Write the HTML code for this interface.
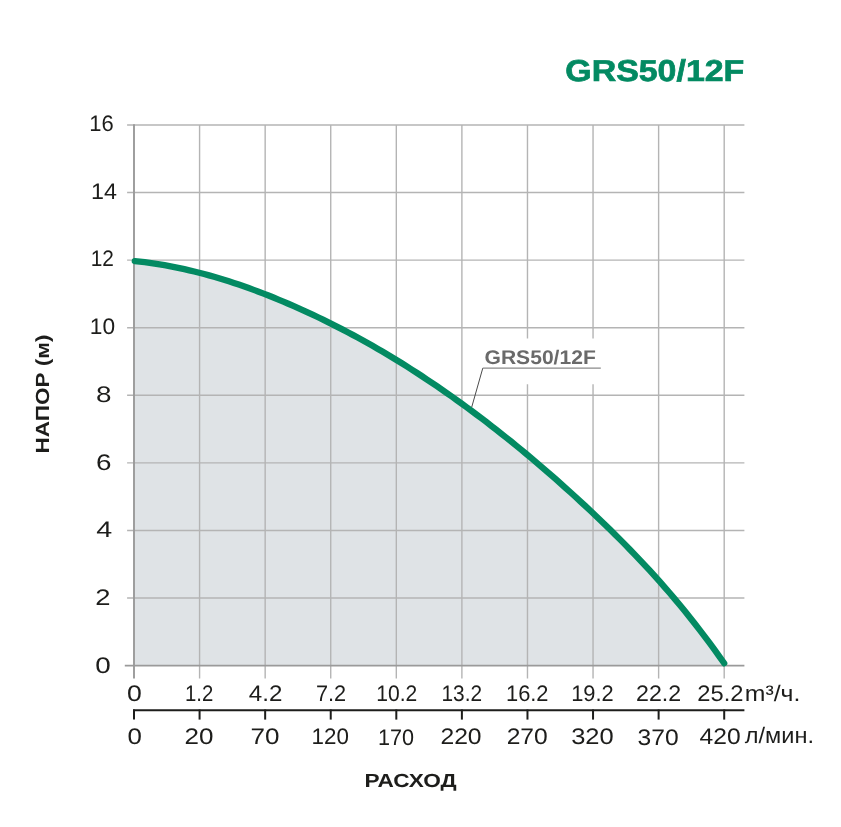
<!DOCTYPE html>
<html><head><meta charset="utf-8"><style>
html,body{margin:0;padding:0;background:#fff;width:841px;height:827px;overflow:hidden}
svg{display:block;will-change:transform}
text{font-family:"Liberation Sans",sans-serif;text-rendering:geometricPrecision}
.n{font-size:22.5px;fill:#1d1d1b}
.b{font-size:19px;font-weight:bold;fill:#1d1d1b}
</style></head><body>
<svg width="841" height="827" viewBox="0 0 841 827">
<path d="M134.80,261.10 L139.75,261.63 L144.71,262.22 L149.66,262.88 L154.61,263.60 L159.56,264.38 L164.52,265.22 L169.47,266.12 L174.42,267.08 L179.38,268.10 L184.33,269.18 L189.28,270.31 L194.24,271.50 L199.19,272.75 L204.14,274.05 L209.09,275.40 L214.05,276.81 L219.00,278.27 L223.95,279.78 L228.91,281.34 L233.86,282.95 L238.81,284.61 L243.76,286.32 L248.72,288.07 L253.67,289.87 L258.62,291.72 L263.58,293.61 L268.53,295.55 L273.48,297.53 L278.44,299.55 L283.39,301.62 L288.34,303.73 L293.29,305.88 L298.25,308.07 L303.20,310.30 L308.15,312.58 L313.11,314.90 L318.06,317.25 L323.01,319.65 L327.96,322.09 L332.92,324.56 L337.87,327.08 L342.82,329.63 L347.78,332.23 L352.73,334.87 L357.68,337.54 L362.64,340.26 L367.59,343.02 L372.54,345.83 L377.49,348.67 L382.45,351.56 L387.40,354.49 L392.35,357.47 L397.31,360.49 L402.26,363.55 L407.21,366.66 L412.16,369.81 L417.12,373.00 L422.07,376.24 L427.02,379.52 L431.98,382.84 L436.93,386.21 L441.88,389.61 L446.84,393.06 L451.79,396.55 L456.74,400.08 L461.69,403.65 L466.65,407.26 L471.60,410.91 L476.55,414.60 L481.51,418.33 L486.46,422.10 L491.41,425.92 L496.36,429.77 L501.32,433.66 L506.27,437.60 L511.22,441.57 L516.18,445.59 L521.13,449.65 L526.08,453.74 L531.04,457.88 L535.99,462.07 L540.94,466.29 L545.89,470.55 L550.85,474.86 L555.80,479.21 L560.75,483.60 L565.71,488.03 L570.66,492.50 L575.61,497.01 L580.56,501.57 L585.52,506.17 L590.47,510.81 L595.42,515.49 L600.38,520.22 L605.33,524.99 L610.28,529.82 L615.24,534.70 L620.19,539.64 L625.14,544.64 L630.09,549.70 L635.05,554.84 L640.00,560.05 L644.95,565.33 L649.91,570.70 L654.86,576.15 L659.81,581.69 L664.76,587.32 L669.72,593.04 L674.67,598.86 L679.62,604.79 L684.58,610.82 L689.53,616.96 L694.48,623.21 L699.44,629.58 L704.39,636.07 L709.34,642.68 L714.29,649.42 L719.25,656.29 L724.20,663.30 L724.20,665.60 L134.00,665.60 Z" fill="#dfe3e6"/>
<line x1="127.1" y1="125.00" x2="744.4" y2="125.00" stroke="#b4b4b4" stroke-width="1.4"/>
<line x1="127.1" y1="192.57" x2="744.4" y2="192.57" stroke="#b4b4b4" stroke-width="1.4"/>
<line x1="127.1" y1="260.15" x2="744.4" y2="260.15" stroke="#b4b4b4" stroke-width="1.4"/>
<line x1="127.1" y1="327.73" x2="744.4" y2="327.73" stroke="#b4b4b4" stroke-width="1.4"/>
<line x1="127.1" y1="395.30" x2="744.4" y2="395.30" stroke="#b4b4b4" stroke-width="1.4"/>
<line x1="127.1" y1="462.88" x2="744.4" y2="462.88" stroke="#b4b4b4" stroke-width="1.4"/>
<line x1="127.1" y1="530.45" x2="744.4" y2="530.45" stroke="#b4b4b4" stroke-width="1.4"/>
<line x1="127.1" y1="598.03" x2="744.4" y2="598.03" stroke="#b4b4b4" stroke-width="1.4"/>
<line x1="199.58" y1="125.0" x2="199.58" y2="678.4" stroke="#b4b4b4" stroke-width="1.4"/>
<line x1="265.16" y1="125.0" x2="265.16" y2="678.4" stroke="#b4b4b4" stroke-width="1.4"/>
<line x1="330.73" y1="125.0" x2="330.73" y2="678.4" stroke="#b4b4b4" stroke-width="1.4"/>
<line x1="396.31" y1="125.0" x2="396.31" y2="678.4" stroke="#b4b4b4" stroke-width="1.4"/>
<line x1="461.89" y1="125.0" x2="461.89" y2="678.4" stroke="#b4b4b4" stroke-width="1.4"/>
<line x1="527.47" y1="125.0" x2="527.47" y2="338.5" stroke="#b4b4b4" stroke-width="1.4"/>
<line x1="527.47" y1="384.2" x2="527.47" y2="678.4" stroke="#b4b4b4" stroke-width="1.4"/>
<line x1="593.04" y1="125.0" x2="593.04" y2="338.5" stroke="#b4b4b4" stroke-width="1.4"/>
<line x1="593.04" y1="384.2" x2="593.04" y2="678.4" stroke="#b4b4b4" stroke-width="1.4"/>
<line x1="658.62" y1="125.0" x2="658.62" y2="678.4" stroke="#b4b4b4" stroke-width="1.4"/>
<line x1="724.20" y1="125.0" x2="724.20" y2="678.4" stroke="#b4b4b4" stroke-width="1.4"/>
<line x1="124.8" y1="665.60" x2="744.4" y2="665.60" stroke="#9a9a9a" stroke-width="1.8"/>
<line x1="134.0" y1="124.3" x2="134.0" y2="678.4" stroke="#9a9a9a" stroke-width="1.9"/>
<path d="M134.80,261.10 L139.75,261.63 L144.71,262.22 L149.66,262.88 L154.61,263.60 L159.56,264.38 L164.52,265.22 L169.47,266.12 L174.42,267.08 L179.38,268.10 L184.33,269.18 L189.28,270.31 L194.24,271.50 L199.19,272.75 L204.14,274.05 L209.09,275.40 L214.05,276.81 L219.00,278.27 L223.95,279.78 L228.91,281.34 L233.86,282.95 L238.81,284.61 L243.76,286.32 L248.72,288.07 L253.67,289.87 L258.62,291.72 L263.58,293.61 L268.53,295.55 L273.48,297.53 L278.44,299.55 L283.39,301.62 L288.34,303.73 L293.29,305.88 L298.25,308.07 L303.20,310.30 L308.15,312.58 L313.11,314.90 L318.06,317.25 L323.01,319.65 L327.96,322.09 L332.92,324.56 L337.87,327.08 L342.82,329.63 L347.78,332.23 L352.73,334.87 L357.68,337.54 L362.64,340.26 L367.59,343.02 L372.54,345.83 L377.49,348.67 L382.45,351.56 L387.40,354.49 L392.35,357.47 L397.31,360.49 L402.26,363.55 L407.21,366.66 L412.16,369.81 L417.12,373.00 L422.07,376.24 L427.02,379.52 L431.98,382.84 L436.93,386.21 L441.88,389.61 L446.84,393.06 L451.79,396.55 L456.74,400.08 L461.69,403.65 L466.65,407.26 L471.60,410.91 L476.55,414.60 L481.51,418.33 L486.46,422.10 L491.41,425.92 L496.36,429.77 L501.32,433.66 L506.27,437.60 L511.22,441.57 L516.18,445.59 L521.13,449.65 L526.08,453.74 L531.04,457.88 L535.99,462.07 L540.94,466.29 L545.89,470.55 L550.85,474.86 L555.80,479.21 L560.75,483.60 L565.71,488.03 L570.66,492.50 L575.61,497.01 L580.56,501.57 L585.52,506.17 L590.47,510.81 L595.42,515.49 L600.38,520.22 L605.33,524.99 L610.28,529.82 L615.24,534.70 L620.19,539.64 L625.14,544.64 L630.09,549.70 L635.05,554.84 L640.00,560.05 L644.95,565.33 L649.91,570.70 L654.86,576.15 L659.81,581.69 L664.76,587.32 L669.72,593.04 L674.67,598.86 L679.62,604.79 L684.58,610.82 L689.53,616.96 L694.48,623.21 L699.44,629.58 L704.39,636.07 L709.34,642.68 L714.29,649.42 L719.25,656.29 L724.20,663.30" fill="none" stroke="#038a62" stroke-width="6.3" stroke-linecap="round" stroke-linejoin="round"/>
<line x1="482.8" y1="368.1" x2="471.7" y2="407.2" stroke="#4a4a4a" stroke-width="1"/>
<line x1="482.8" y1="368.1" x2="600.8" y2="368.1" stroke="#8a8a8a" stroke-width="1.4"/>
<text x="484.5" y="363.8" font-size="19.8" font-weight="bold" fill="#6a6a6a" textLength="111.3" lengthAdjust="spacingAndGlyphs">GRS50/12F</text>
<line x1="133.0" y1="710.3" x2="744.4" y2="710.3" stroke="#1d1d1b" stroke-width="2"/>
<line x1="134.00" y1="709.5" x2="134.00" y2="719.6" stroke="#1d1d1b" stroke-width="2"/>
<line x1="199.58" y1="709.5" x2="199.58" y2="719.6" stroke="#1d1d1b" stroke-width="2"/>
<line x1="265.16" y1="709.5" x2="265.16" y2="719.6" stroke="#1d1d1b" stroke-width="2"/>
<line x1="330.73" y1="709.5" x2="330.73" y2="719.6" stroke="#1d1d1b" stroke-width="2"/>
<line x1="396.31" y1="709.5" x2="396.31" y2="719.6" stroke="#1d1d1b" stroke-width="2"/>
<line x1="461.89" y1="709.5" x2="461.89" y2="719.6" stroke="#1d1d1b" stroke-width="2"/>
<line x1="527.47" y1="709.5" x2="527.47" y2="719.6" stroke="#1d1d1b" stroke-width="2"/>
<line x1="593.04" y1="709.5" x2="593.04" y2="719.6" stroke="#1d1d1b" stroke-width="2"/>
<line x1="658.62" y1="709.5" x2="658.62" y2="719.6" stroke="#1d1d1b" stroke-width="2"/>
<line x1="724.20" y1="709.5" x2="724.20" y2="719.6" stroke="#1d1d1b" stroke-width="2"/>
<text transform="translate(101.45,130.90) scale(0.975,1)" text-anchor="middle" class="n">16</text>
<text transform="translate(103.90,198.65) scale(1.035,1)" text-anchor="middle" class="n">14</text>
<text transform="translate(102.35,266.40) scale(0.927,1)" text-anchor="middle" class="n">12</text>
<text transform="translate(102.50,334.15) scale(1.009,1)" text-anchor="middle" class="n">10</text>
<text transform="translate(103.65,401.90) scale(1.237,1)" text-anchor="middle" class="n">8</text>
<text transform="translate(103.65,469.65) scale(1.237,1)" text-anchor="middle" class="n">6</text>
<text transform="translate(104.25,537.40) scale(1.274,1)" text-anchor="middle" class="n">4</text>
<text transform="translate(102.85,605.15) scale(1.220,1)" text-anchor="middle" class="n">2</text>
<text transform="translate(103.05,672.90) scale(1.237,1)" text-anchor="middle" class="n">0</text>
<text transform="translate(134.45,701.20) scale(1.183,1)" text-anchor="middle" class="n">0</text>
<text transform="translate(199.20,701.20) scale(0.904,1)" text-anchor="middle" class="n">1.2</text>
<text transform="translate(265.65,701.20) scale(1.073,1)" text-anchor="middle" class="n">4.2</text>
<text transform="translate(331.05,701.20) scale(0.966,1)" text-anchor="middle" class="n">7.2</text>
<text transform="translate(396.80,701.20) scale(0.937,1)" text-anchor="middle" class="n">10.2</text>
<text transform="translate(461.80,701.20) scale(0.927,1)" text-anchor="middle" class="n">13.2</text>
<text transform="translate(527.25,701.20) scale(0.971,1)" text-anchor="middle" class="n">16.2</text>
<text transform="translate(592.45,701.20) scale(0.971,1)" text-anchor="middle" class="n">19.2</text>
<text transform="translate(658.55,701.20) scale(1.030,1)" text-anchor="middle" class="n">22.2</text>
<text transform="translate(720.35,701.20) scale(1.054,1)" text-anchor="middle" class="n">25.2</text>
<text transform="translate(134.75,744.20) scale(1.149,1)" text-anchor="middle" class="n">0</text>
<text transform="translate(198.90,744.20) scale(1.157,1)" text-anchor="middle" class="n">20</text>
<text transform="translate(265.00,744.20) scale(1.157,1)" text-anchor="middle" class="n">70</text>
<text transform="translate(330.25,744.20) scale(0.994,1)" text-anchor="middle" class="n">120</text>
<text transform="translate(396.00,745.20) scale(0.960,1)" text-anchor="middle" class="n">170</text>
<text transform="translate(461.00,744.20) scale(1.098,1)" text-anchor="middle" class="n">220</text>
<text transform="translate(527.20,744.20) scale(1.095,1)" text-anchor="middle" class="n">270</text>
<text transform="translate(592.45,744.20) scale(1.134,1)" text-anchor="middle" class="n">320</text>
<text transform="translate(658.10,745.20) scale(1.095,1)" text-anchor="middle" class="n">370</text>
<text transform="translate(720.05,744.20) scale(1.095,1)" text-anchor="middle" class="n">420</text>
<text x="744.8" y="701.1" class="n" textLength="55.6" lengthAdjust="spacingAndGlyphs">m³/ч.</text>
<text x="744.8" y="743.2" class="n" textLength="69.2" lengthAdjust="spacingAndGlyphs">л/мин.</text>
<text x="364.4" y="786.7" class="b" textLength="92.3" lengthAdjust="spacingAndGlyphs">РАСХОД</text>
<text transform="translate(49,453.5) rotate(-90)" x="0" y="0" class="b" textLength="119" lengthAdjust="spacingAndGlyphs">НАПОР (м)</text>
<text x="565.3" y="80.5" font-size="30.2" font-weight="bold" fill="#038a62" stroke="#038a62" stroke-width="0.7" textLength="179"  lengthAdjust="spacingAndGlyphs">GRS50/12F</text>
</svg>
</body></html>
